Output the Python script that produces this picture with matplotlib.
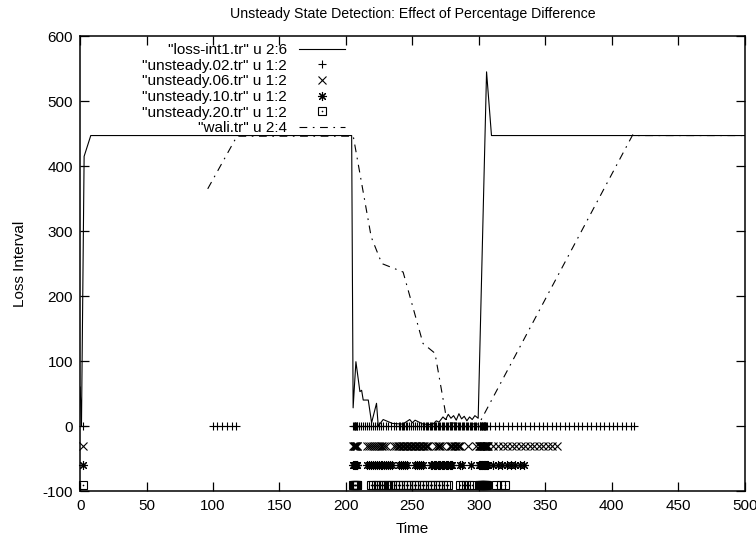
"""
Unsteady state detection chart (gnuplot look) redrawn with matplotlib.
"""

import matplotlib
matplotlib.use("Agg")
import matplotlib.pyplot as plt
from matplotlib.legend_handler import HandlerTuple

plt.rcParams["font.family"] = ["Liberation Sans", "DejaVu Sans"]
plt.rcParams["axes.unicode_minus"] = False

# --- loss-int1.tr u 2:6 (solid line) ---
loss_x = [0, 1, 3, 8, 204.3, 205.4, 207.5, 210.5, 211.8, 213, 216.8, 219.3, 223,
          224.3, 228, 235, 243, 245, 248, 250, 252, 258, 265, 268, 270, 273, 275,
          277, 279, 281, 283, 285, 287, 289, 291, 293, 295, 297, 299.5, 305.8,
          309.5, 500]
loss_y = [60, 0, 415, 447, 447, 28, 99, 53, 55, 40, 40, 5, 35,
          0, 10, 4, 3, 6, 10, 5, 9, 3, 2, 8, 6, 14, 10,
          18, 12, 16, 9, 19, 11, 15, 8, 14, 10, 16, 12, 545,
          447, 447]

# --- wali.tr u 2:4 (dash-dot line) ---
wali_x = [96, 118, 205.5, 219, 227, 243, 258, 267, 274.5, 276, 300, 416, 418, 500]
wali_y = [365, 446, 446, 291, 250, 237, 127, 112, 25, 5, 3, 449, 447, 447]

# --- unsteady.02.tr u 1:2 (+ at 0) ---
u02_x = [2, 99.8, 103.2, 106.5, 110.3, 114, 117.3,
         205.5, 206, 206.5, 207, 207.5, 208, 208.5, 210, 211.5, 213, 214.5, 216,
         217.5, 219, 220.5, 222, 223.5, 225, 226.5, 228, 230, 232, 234, 236, 238,
         240, 241, 242, 243, 244, 245, 246, 247.5, 249, 250.5, 252, 253.5, 255,
         256.5, 258, 259, 260, 261, 262, 263, 264, 265, 266, 267, 268, 269, 270,
         271, 272, 273, 274, 275, 276, 277, 278, 279, 280, 281, 282, 283, 284,
         285, 286, 287, 288, 289, 290, 291, 292, 293, 294, 295, 296, 297, 298,
         299, 300.5, 301, 301.5, 302, 302.5, 303, 303.5, 304, 304.5, 305, 305.5,
         306, 308.6, 311.9, 315.2, 318.5, 321.8, 325.1, 328.4, 331.7, 335.0,
         338.3, 341.6, 344.9, 348.2, 351.5, 354.8, 358.1, 361.4, 364.7, 368.0,
         371.3, 374.6, 377.9, 381.2, 384.5, 387.8, 391.1, 394.4, 397.7, 401.0,
         404.3, 407.6, 410.9, 414.2, 416.5]
u02_y = [0] * len(u02_x)

# --- unsteady.06.tr u 1:2 (x at -30) ---
u06_x = [2, 205.5, 206, 206.5, 207, 207.5, 208, 208.5,
         215.5, 217, 218.5, 220, 221.5, 223, 224.5, 226, 227.5, 229, 230.5, 236,
         237.5, 239, 240, 241, 242, 243, 244, 245, 246, 247, 248, 249, 250, 251,
         252, 253, 254, 255, 256, 257, 258, 259, 260, 261, 262, 268, 269, 270,
         271, 272, 278, 279, 280, 281, 282, 283, 284, 285, 286, 292, 298, 300,
         300.5, 301, 301.5, 302, 302.5, 303, 303.5, 304, 304.5, 305, 305.5, 306,
         306.5, 307, 311.0, 314.4, 317.8, 321.2, 324.6, 328.0, 331.4, 334.8,
         338.2, 341.6, 345.0, 348.4, 351.8, 355.2, 358.6]
u06_y = [-30] * len(u06_x)

# --- unsteady.10.tr u 1:2 (* at -60) ---
u10_x = [2, 205.5, 206, 206.5, 207, 207.5, 208, 208.5,
         215.5, 217, 218.5, 220, 221.5, 223, 224.5, 226, 227.5, 229, 230.5, 232,
         233.5, 235, 240, 241.5, 243, 244.5, 246, 252, 253.5, 255, 256.5, 258,
         264, 265, 266, 267, 268, 269, 270, 271, 272, 273, 274, 275, 276, 277,
         278, 279, 280, 286, 287.5, 294, 300, 300.5, 301, 301.5, 302, 302.5,
         303, 303.5, 304, 304.5, 305, 305.5, 306, 306.5, 307, 311.0, 314.3,
         317.6, 320.9, 324.2, 327.5, 330.8, 334.1]
u10_y = [-60] * len(u10_x)

# --- unsteady.20.tr u 1:2 (boxes at -90) ---
u20_x = [2.5, 205.5, 206, 206.5, 207, 207.5, 208, 208.5,
         218.5, 220.5, 222.5, 224, 226, 228, 230, 232, 233.5, 235, 237, 239, 241,
         243, 245, 247, 249, 251, 253, 255, 257, 259, 261, 263, 265, 267, 269,
         271, 273, 275, 277, 286, 288, 290, 292.5, 294.5, 300, 300.5, 301,
         301.5, 302, 302.5, 303, 303.5, 304, 304.5, 305, 305.5, 306, 313, 316.5,
         320]
u20_y = [-90] * len(u20_x)

# tick positions
xticks = [0, 50, 100, 150, 200, 250, 300, 350, 400, 450, 500]
yticks = [-100, 0, 100, 200, 300, 400, 500, 600]

fig = plt.figure(figsize=(7.56, 5.39), dpi=100)
ax = fig.add_axes([0.106, 0.089, 0.879, 0.844])

lw = 0.8
h_loss, = ax.plot(loss_x, loss_y, color="black", lw=lw, zorder=3)
h02, = ax.plot(u02_x, u02_y, ls="none", marker="+", ms=6, mew=0.8,
               color="black", clip_on=False)
h06, = ax.plot(u06_x, u06_y, ls="none", marker="x", ms=5.5, mew=0.8,
               color="black", clip_on=False)
h10, = ax.plot(u10_x, u10_y, ls="none", marker=(8, 2, 0), ms=6.5, mew=0.8,
               color="black", clip_on=False)
h20, = ax.plot(u20_x, u20_y, ls="none", marker="s", ms=6, mew=0.8,
               mfc="none", mec="black", clip_on=False)
h20d, = ax.plot(u20_x, u20_y, ls="none", marker="o", ms=1.2, mew=0,
                color="black", clip_on=False)
h_wali, = ax.plot(wali_x, wali_y, color="black", lw=lw, dashes=(7, 5, 1.5, 5),
                  zorder=3)

ax.set_xlim(0, 500)
ax.set_ylim(-100, 600)
ax.set_xticks(xticks)
ax.set_yticks(yticks)
ax.tick_params(direction="in", length=6.5, width=0.9, top=True, right=True,
               labelsize=11, pad=5)
ax.tick_params(axis="x", pad=6)
for s in ax.spines.values():
    s.set_linewidth(1.1)

ax.set_title("Unsteady State Detection: Effect of Percentage Difference",
             fontsize=10.2, pad=13)
ax.set_xlabel("Time", fontsize=11, labelpad=6)
ax.set_ylabel("Loss Interval", fontsize=11, labelpad=11)

leg = ax.legend(
    [h_loss, h02, h06, h10, (h20, h20d), h_wali],
    ['"loss-int1.tr" u 2:6', '"unsteady.02.tr" u 1:2', '"unsteady.06.tr" u 1:2',
     '"unsteady.10.tr" u 1:2', '"unsteady.20.tr" u 1:2', '"wali.tr" u 2:4'],
    handler_map={tuple: HandlerTuple(ndivide=1)},
    loc="upper right", bbox_to_anchor=(0.399, 0.985), frameon=False,
    markerfirst=False, fontsize=11, handlelength=3.0, handletextpad=0.8,
    labelspacing=0.11, borderpad=0, borderaxespad=0)

fig.savefig("out.png", dpi=100)
